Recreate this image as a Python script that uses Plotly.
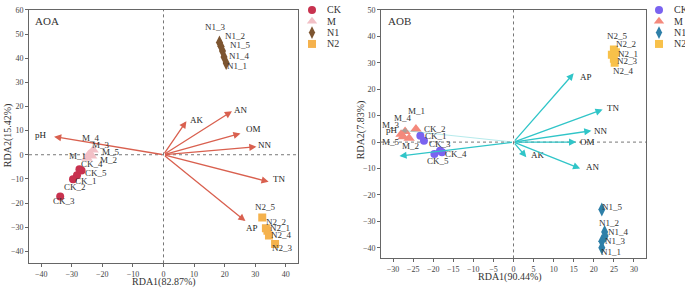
import plotly.graph_objects as go

# ---------------- data: AOA (left panel) ----------------
groups = ["CK", "M", "N1", "N2"]
aoa_ck_names = ["CK_1", "CK_2", "CK_3", "CK_4", "CK_5"]
aoa_ck_x = [-28.3, -29.6, -33.8, -27.5, -26.8]
aoa_ck_y = [-8.5, -10.2, -17.3, -6.0, -6.5]
aoa_m_names = ["M_1", "M_2", "M_3", "M_4", "M_5"]
aoa_m_x = [-25.0, -23.5, -23.0, -24.0, -24.5]
aoa_m_y = [-1.5, -0.5, 2.0, 0.5, 0.0]
aoa_n1_names = ["N1_1", "N1_2", "N1_3", "N1_4", "N1_5"]
aoa_n1_x = [20.5, 18.8, 18.3, 19.8, 19.3]
aoa_n1_y = [38.0, 45.0, 46.5, 40.5, 43.0]
aoa_n2_names = ["N2_1", "N2_2", "N2_3", "N2_4", "N2_5"]
aoa_n2_x = [34.0, 33.5, 36.5, 34.5, 32.3]
aoa_n2_y = [-31.5, -30.5, -37.0, -33.5, -26.0]
aoa_env = ["pH", "AK", "AN", "OM", "NN", "TN", "AP"]
aoa_env_x = [-35.8, 7.5, 22.4, 25.2, 30.4, 34.4, 26.8]
aoa_env_y = [7.5, 13.9, 18.0, 8.8, 3.3, -11.2, -27.5]

# ---------------- data: AOB (right panel) ----------------
aob_ck_names = ["CK_1", "CK_2", "CK_3", "CK_4", "CK_5"]
aob_ck_x = [-22.3, -23.2, -18.3, -17.8, -19.7]
aob_ck_y = [0.5, 2.4, -3.3, -3.8, -4.5]
aob_m_names = ["M_1", "M_2", "M_3", "M_4", "M_5"]
aob_m_x = [-24.3, -26.0, -28.0, -27.0, -27.5]
aob_m_y = [5.0, 1.5, 3.0, 4.0, 2.0]
aob_n1_names = ["N1_1", "N1_2", "N1_3", "N1_4", "N1_5"]
aob_n1_x = [22.0, 22.7, 22.0, 22.8, 22.0]
aob_n1_y = [-40.0, -34.0, -37.5, -35.5, -25.5]
aob_n2_names = ["N2_1", "N2_2", "N2_3", "N2_4", "N2_5"]
aob_n2_x = [24.5, 25.5, 25.0, 25.2, 25.0]
aob_n2_y = [33.0, 34.0, 31.5, 30.0, 35.0]
aob_env = ["pH", "", "AK", "AN", "OM", "NN", "TN", "AP"]
aob_env_x = [-28.0, -28.4, 3.2, 16.6, 15.6, 19.4, 22.2, 15.0]
aob_env_y = [4.5, -5.3, -5.7, -10.0, 0.0, 4.3, 12.3, 26.0]

# ---------------- style ----------------
FONT = "Liberation Serif"
LBL = "#333333"
aoa_colors = ["#c8324f", "#f2c0c6", "#7d5530", "#f5b24d"]
aob_colors = ["#7a63f0", "#f4897c", "#2e7fa8", "#f8c14a"]
symbols = ["circle", "triangle-up", "diamond-tall", "square"]
sizes = [8, 10, 10, 8]
AOA_ARROW = "#d9604f"
AOB_ARROW = "#30c5c8"

# label offsets in pixels (xshift, yshift)
aoa_off = {
    "CK": [(9, -6), (2, -8), (4, -5), (13, 5), (14, -3)],
    "M": [(-10, 2), (17, -4), (8, 5), (1, 16), (22, 3)],
    "N1": [(11, -3), (14, 10), (-4, 16), (15, 1), (18, 6)],
    "N2": [(13, 3), (10, 6), (7, -4), (13, 1), (3, 10)],
}
aob_off = {
    "CK": [(12, 5), (15, 7), (0, 7), (14, -2), (4, -7)],
    "M": [(1, 18), (1, -8), (-10, 9), (-2, 14), (-12, -5)],
    "N1": [(9, -4), (4, 9), (14, 0), (13, 4), (11, 3)],
    "N2": [(16, 1), (10, 8), (14, -2), (9, -8), (4, 14)],
}
aoa_env_off = [(-13, 2), (11, 1), (9, 1), (13, 4), (9, 2), (10, 3), (7, -7)]
aob_env_off = [(-9, 0), (0, 0), (12, 2), (13, 2), (11, 0), (10, 0), (10, 2), (12, -4)]

fig = go.Figure()
annotations = []

aoa_sets = [(aoa_ck_names, aoa_ck_x, aoa_ck_y), (aoa_m_names, aoa_m_x, aoa_m_y),
            (aoa_n1_names, aoa_n1_x, aoa_n1_y), (aoa_n2_names, aoa_n2_x, aoa_n2_y)]
aob_sets = [(aob_ck_names, aob_ck_x, aob_ck_y), (aob_m_names, aob_m_x, aob_m_y),
            (aob_n1_names, aob_n1_x, aob_n1_y), (aob_n2_names, aob_n2_x, aob_n2_y)]


def add_panel(sets, colors, offs, env, ex, ey, eoff, arrow_color, xa, ya, faint_first=False):
    # arrows
    for i, (nm, x, y) in enumerate(zip(env, ex, ey)):
        col = arrow_color
        width = 1.3
        if faint_first and i == 0:
            col = "rgba(48,197,200,0.35)"
            width = 1.0
        annotations.append(dict(
            x=x, y=y, ax=0, ay=0, xref=xa, yref=ya, axref=xa, ayref=ya,
            showarrow=True, arrowhead=2, arrowsize=1.1, arrowwidth=width,
            arrowcolor=col, text=""))
        if nm:
            annotations.append(dict(
                x=x, y=y, xref=xa, yref=ya, text=nm, showarrow=False,
                xshift=eoff[i][0], yshift=eoff[i][1],
                font=dict(family=FONT, size=9, color="#222")))
    # points
    for g, (names, xs, ys) in enumerate(sets):
        fig.add_trace(go.Scatter(
            x=xs, y=ys, mode="markers", xaxis=xa, yaxis=ya, showlegend=False,
            marker=dict(symbol=symbols[g], size=sizes[g], color=colors[g],
                        line=dict(width=0)),
            name=groups[g]))
        for k, (nm, x, y) in enumerate(zip(names, xs, ys)):
            annotations.append(dict(
                x=x, y=y, xref=xa, yref=ya, text=nm, showarrow=False,
                xshift=offs[groups[g]][k][0], yshift=offs[groups[g]][k][1],
                font=dict(family=FONT, size=9, color=LBL)))


add_panel(aoa_sets, aoa_colors, aoa_off, aoa_env, aoa_env_x, aoa_env_y,
          aoa_env_off, AOA_ARROW, "x", "y")
add_panel(aob_sets, aob_colors, aob_off, aob_env, aob_env_x, aob_env_y,
          aob_env_off, AOB_ARROW, "x2", "y2", faint_first=True)

# legends (drawn on a hidden pixel-space overlay axis)
leg_rows = [6, 17.5, 29, 40.5]
for (mx, cols) in [(312, aoa_colors), (659, aob_colors)]:
    for g in range(4):
        fig.add_trace(go.Scatter(
            x=[mx], y=[leg_rows[g]], mode="markers", xaxis="x3", yaxis="y3",
            showlegend=False,
            marker=dict(symbol=symbols[g], size=[8, 9, 9, 8][g], color=cols[g],
                        line=dict(width=0)),
            cliponaxis=False, hoverinfo="skip"))
        annotations.append(dict(
            x=mx + 13, y=leg_rows[g], xref="x3", yref="y3", text=groups[g],
            showarrow=False, xanchor="left", yanchor="middle",
            font=dict(family=FONT, size=10, color="#333")))

# panel titles and axis titles
for txt, x, y, ang, size in [
    ("AOA", 47 / 685, 1 - 17 / 289, 0, 11),
    ("AOB", 400 / 685, 1 - 17 / 289, 0, 11),
    ("RDA1(82.87%)", 164 / 685, 1 - 282 / 289, 0, 10),
    ("RDA1(90.44%)", 510 / 685, 1 - 277 / 289, 0, 10),
    ("RDA2(15.42%)", 8 / 685, 1 - 133 / 289, -90, 10),
    ("RDA2(7.83%)", 361 / 685, 1 - 127 / 289, -90, 10),
]:
    annotations.append(dict(x=x, y=y, xref="paper", yref="paper", text=txt,
                            showarrow=False, textangle=ang,
                            xanchor="center", yanchor="middle",
                            font=dict(family=FONT, size=size, color="#333")))

axis_common = dict(showgrid=False, zeroline=False, showline=True, linecolor="#666",
                   linewidth=1, mirror=True, ticks="outside", ticklen=3,
                   tickcolor="#666", tickfont=dict(family=FONT, size=8, color="#444"))

fig.update_layout(
    width=685, height=289,
    margin=dict(l=0, r=0, t=0, b=0),
    paper_bgcolor="white", plot_bgcolor="rgba(0,0,0,0)",
    showlegend=False,
    xaxis=dict(domain=[29 / 685, 298 / 685], range=[-44, 44], tickmode="array",
               tickvals=[-40, -30, -20, -10, 0, 10, 20, 30, 40], anchor="y",
               **axis_common),
    yaxis=dict(domain=[1 - 263 / 289, 1 - 6 / 289], range=[-45, 60], tickmode="array",
               tickvals=[-40, -30, -20, -10, 0, 10, 20, 30, 40, 50, 60], anchor="x",
               **axis_common),
    xaxis2=dict(domain=[381 / 685, 646 / 685], range=[-33, 33], tickmode="array",
                tickvals=[-30, -25, -20, -15, -10, -5, 0, 5, 10, 15, 20, 25, 30],
                anchor="y2", **axis_common),
    yaxis2=dict(domain=[1 - 258 / 289, 1 - 6 / 289], range=[-44, 50], tickmode="array",
                tickvals=[-40, -30, -20, -10, 0, 10, 20, 30, 40, 50], anchor="x2",
                **axis_common),
    xaxis3=dict(domain=[0, 1], range=[0, 685], visible=False, fixedrange=True,
                anchor="y3"),
    yaxis3=dict(domain=[0, 1], range=[289, 0], visible=False, fixedrange=True,
                anchor="x3"),
    annotations=annotations,
)
# dotted zero lines
for xa, ya in [("x", "y"), ("x2", "y2")]:
    fig.add_shape(type="line", xref=xa + " domain", yref=ya, x0=0, x1=1, y0=0, y1=0,
                  line=dict(color="#777", width=1, dash="dot"), layer="below")
    fig.add_shape(type="line", xref=xa, yref=ya + " domain", x0=0, x1=0, y0=0, y1=1,
                  line=dict(color="#777", width=1, dash="dot"), layer="below")

fig.write_html("out.html", config={"displayModeBar": False},
               post_script="document.body.style.margin='0px';")
